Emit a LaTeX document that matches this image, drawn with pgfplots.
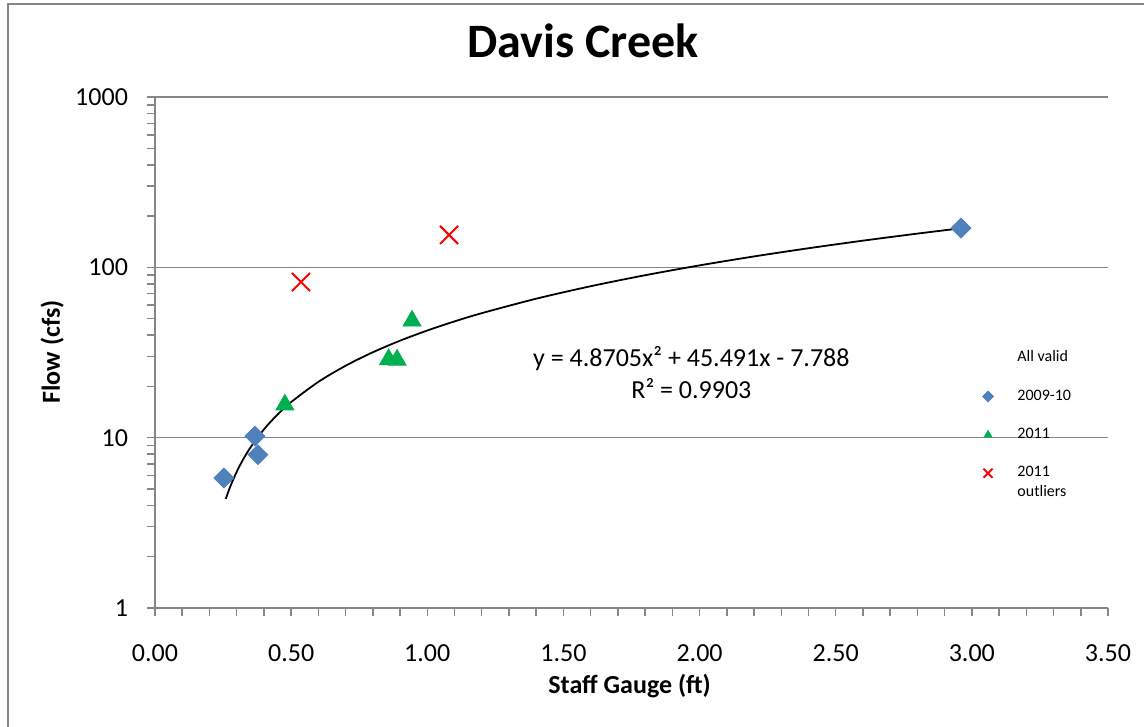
\documentclass[border=0pt]{standalone}
\usepackage{fontspec}
\setmainfont{Carlito}
\usepackage{pgfplots}
\pgfplotsset{compat=1.18}
\definecolor{xlblue}{HTML}{4F81BD}
\definecolor{xlgreen}{HTML}{00B050}
\definecolor{xlgrid}{HTML}{868686}
\begin{document}
\begin{tikzpicture}
\path[use as bounding box] (-77.5pt,-59.5pt) rectangle (494.5pt,304pt);
\draw[xlgrid, line width=0.75pt] (-73.5pt,-70pt) -- (-73.5pt,302pt) -- (510pt,302pt);
\begin{axis}[
    at={(0pt,0pt)}, anchor=south west,
    scale only axis, width=476.5pt, height=255.5pt,
    ymode=log,
    xmin=0, xmax=3.5, ymin=1, ymax=1000,
    axis x line*=bottom, axis y line*=left,
    axis line style={xlgrid, line width=0.75pt},
    xtick={0,0.5,1,1.5,2,2.5,3,3.5},
    minor x tick num=4,
    ytick={1,10,100,1000},
    yticklabels={1,10,100,1000},
    minor ytick={2,3,4,5,6,7,8,9,20,30,40,50,60,70,80,90,200,300,400,500,600,700,800,900},
    tick align=outside,
    major tick length=4pt, minor tick length=4pt,
    tick style={xlgrid, line width=0.75pt},
    ymajorgrids=true,
    grid style={xlgrid, line width=0.75pt},
    /pgf/number format/assume math mode=true,
    tick label style={font=\fontsize{13}{15}\selectfont},
    xticklabel style={/pgf/number format/fixed, /pgf/number format/fixed zerofill,
        /pgf/number format/precision=2, yshift=-11pt},
    yticklabel style={xshift=-6pt},
    title={Davis Creek},
    title style={font=\bfseries\fontsize{24}{28}\selectfont, at={(axis description cs:0.449,1.086)},
        anchor=center, yshift=0pt},
    xlabel={Staff Gauge (ft)},
    ylabel={Flow (cfs)},
    label style={font=\bfseries\fontsize{13}{15}\selectfont},
    xlabel style={at={(axis description cs:0.498,-0.153)}, anchor=center},
    ylabel style={at={(axis description cs:-0.108,0.501)}, anchor=center},
    legend style={draw=none, fill=none, at={(axis description cs:0.8495,0.52)}, anchor=north west,
        font=\fontsize{8}{9.6}\selectfont, row sep=8.5pt, cells={anchor=west},
        /tikz/every odd column/.append style={column sep=10pt}},
]
% polynomial trendline, values
\addplot[black, line width=0.9pt, smooth, forget plot] coordinates {
    (0.26,4.369)(0.27,4.850)(0.28,5.331)(0.30,6.298)(0.32,7.268)(0.35,8.730)
    (0.40,11.188)(0.45,13.669)(0.50,16.175)(0.60,21.260)(0.70,26.442)(0.80,31.722)
    (0.90,37.099)(1.00,42.574)(1.10,48.145)(1.20,53.815)(1.40,65.446)(1.60,77.466)
    (1.80,89.876)(2.00,102.676)(2.20,115.865)(2.40,129.445)(2.60,143.413)
    (2.80,157.772)(2.96,169.539)
};
\addlegendimage{empty legend}
\addlegendentry{All valid}
\addplot[only marks, mark=square*, mark size=3.5pt,
    mark options={rotate=45, fill=xlblue, draw=xlblue},
    legend image code/.code={\draw[only marks, mark=square*, mark size=1.9pt,
        mark options={rotate=45, fill=xlblue, draw=xlblue}] plot coordinates {(0.3cm,0cm)};}]
    coordinates {(0.253,5.8)(0.367,10.2)(0.378,7.95)(2.96,170)};
\addlegendentry{2009-10}
\addplot[only marks, mark=triangle*, mark size=5.2pt,
    mark options={fill=xlgreen, draw=xlgreen},
    legend image code/.code={\draw[only marks, mark=triangle*, mark size=2.2pt,
        mark options={fill=xlgreen, draw=xlgreen}] plot coordinates {(0.3cm,0cm)};}]
    coordinates {(0.477,15.6)(0.858,28.8)(0.889,28.6)(0.944,48.5)};
\addlegendentry{2011}
\addplot[only marks, mark=x, mark size=6.4pt,
    mark options={draw=red, line width=1pt},
    legend image code/.code={\draw[only marks, mark=x, mark size=3.2pt,
        mark options={draw=red, line width=1pt}] plot coordinates {(0.3cm,0cm)};}]
    coordinates {(0.536,82)(1.08,155)};
\addlegendentry{\rlap{\smash{\raisebox{-9.6pt}{outliers}}}2011}
\node[align=center, font=\fontsize{13}{16}\selectfont] at (axis cs:1.97,24)
    {y = 4.8705x² + 45.491x - 7.788\\R² = 0.9903};
\end{axis}
\end{tikzpicture}
\end{document}
